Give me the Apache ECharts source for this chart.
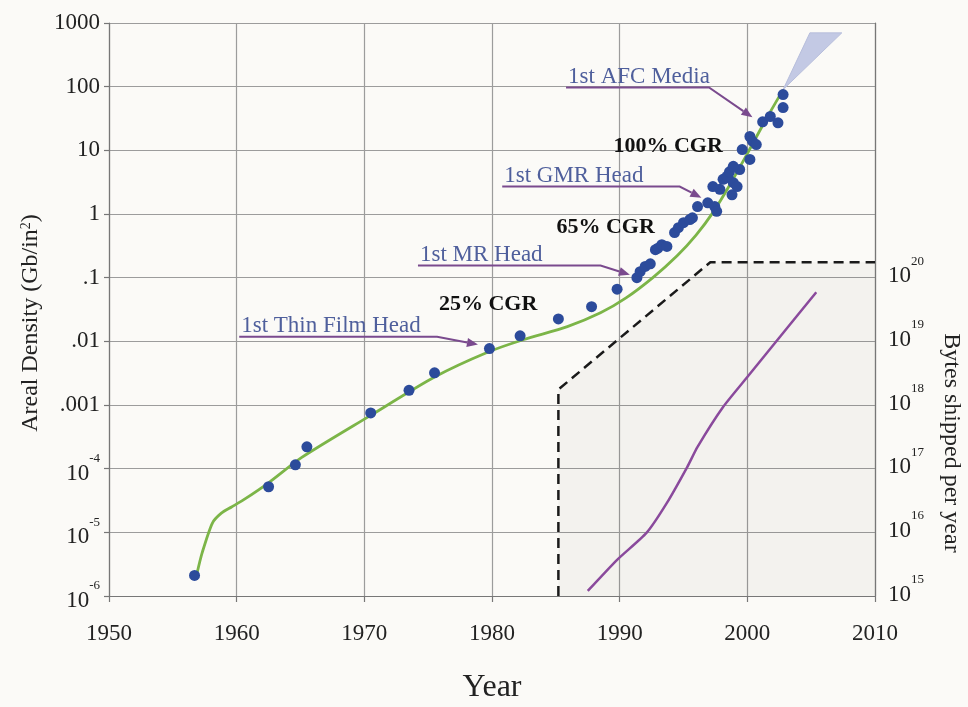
<!DOCTYPE html>
<html><head><meta charset="utf-8">
<script src="https://cdn.jsdelivr.net/npm/echarts@6/dist/echarts.min.js"></script>
<style>html,body{margin:0;padding:0;background:#fbfaf7}#c{width:968px;height:707px}</style>
</head><body><div id="c"></div>
<script>
// ---- data ----
const arealYears  = [1956.7,1962.5,1964.6,1965.5,1970.5,1973.5,1975.5,1979.8,1982.2,1985.2,1987.8,1989.8,
  1991.35,1991.6,1992.0,1992.4,1992.8,1993.0,1993.3,1993.7,1994.3,1994.6,1995.0,1995.5,1995.7,
  1996.1,1996.9,1997.45,1997.6,1997.85,1997.3,1998.1,1998.5,1998.9,1998.4,1998.6,1999.4,1998.9,1998.8,1999.2,
  1999.6,2000.2,2000.2,2000.4,2000.7,2001.2,2001.8,2002.4,2002.8,2002.8];
const arealValues = [2.1e-6,5.2e-5,1.15e-4,2.2e-4,7.5e-4,1.7e-3,3.2e-3,7.7e-3,0.0122,0.0225,0.035,0.066,
  0.1,0.124,0.15,0.165,0.275,0.29,0.33,0.31,0.51,0.61,0.73,0.82,0.87,
  1.31,1.5,1.31,1.1,2.44,2.7,3.5,3.7,3.1,3.9,4.6,5.0,5.6,2.0,2.7,
  10.3,7.2,16.5,13.9,12.3,28,34,27,75,47];
const fitYears  = [1956.9,1957.3,1958.1,1958.8,1959.6,1960.5,1962.5,1965.1,1970.3,1975.5,1979.7,1982.5,
  1985.9,1988.5,1990.5,1992.6,1994.5,1996.0,1997.3,1998.6,2000.0,2001.5,2002.8];
const fitValues = [2.3e-6,4.8e-6,1.4e-5,2.0e-5,2.5e-5,3.2e-5,6.0e-5,1.5e-4,6.5e-4,2.75e-3,6.8e-3,1.07e-2,
  1.7e-2,2.8e-2,4.8e-2,0.1,0.22,0.47,1.05,2.8,8.9,31.6,89];
const bytesYears  = [1987.5,1989.8,1992.1,1993.7,1995.3,1996.1,1998.1,2000.0,2002.8,2005.4];
const bytesValues = [1.2e15,3.7e15,9.8e15,2.9e16,1.07e17,2.2e17,9.3e17,2.75e18,1.35e19,5.9e19];
const limitYears  = [1985.2,1985.2,1997.1,2010];
const limitValues = [1e15,1.75e18,1.75e20,1.75e20];
const projYears   = [2002.8,2004.9,2007.4];
const projValues  = [90,700,700];

const leftTickExps   = [-6,-5,-4,-3,-2,-1,0,1,2,3];
const leftTickLabels = ['10^-6','10^-5','10^-4','.001','.01','.1','1','10','100','1000'];
const rightTickExps   = [15,16,17,18,19,20];
const rightTickLabels = ['10^15','10^16','10^17','10^18','10^19','10^20'];

const noteTexts      = ['1st AFC Media','1st GMR Head','1st MR Head','1st Thin Film Head'];
const noteStartYears = [1985.8,1980.8,1974.2,1960.2];
const noteLineValues = [97,2.7,0.155,0.0118];
const noteBendYears  = [1997.0,1994.7,1988.5,1975.7];
const noteTipYears   = [2000.4,1996.4,1990.8,1978.9];
const noteTipValues  = [33,1.8,0.111,0.0089];

const cgrTexts  = ['100% CGR','65% CGR','25% CGR'];
const cgrYears  = [1993.8,1988.9,1979.7];
const cgrValues = [11.5,0.61,0.0376];

// ---- chart ----
const SERIF = '"Liberation Serif","Times New Roman",serif';
function toRich(s){
  const m = s.split('^');
  return m.length > 1 ? '{b|' + m[0] + '}{s|' + m[1] + '}' : '{n|' + s + '}';
}
const richStyle = {
  n: {fontSize: 23, fontFamily: SERIF, color: '#222'},
  b: {fontSize: 23, fontFamily: SERIF, color: '#222', padding: [10,0,0,0]},
  s: {fontSize: 13, fontFamily: SERIF, color: '#222', verticalAlign: 'top', lineHeight: 14}
};
const chart = echarts.init(document.getElementById('c'), null, {renderer: 'canvas'});
const zip = (a, b) => a.map((v, i) => [v, b[i]]);

chart.setOption({
  backgroundColor: '#fbfaf7',
  animation: false,
  textStyle: {fontFamily: SERIF},
  grid: {left: 109, right: 93, top: 23, bottom: 111, containLabel: false, outerBoundsMode: 'none'},
  xAxis: {
    type: 'value', min: 1950, max: 2010, interval: 10,
    name: 'Year', nameLocation: 'middle', nameGap: 76,
    nameTextStyle: {fontFamily: SERIF, fontSize: 32, color: '#222'},
    axisLine: {show: true, onZero: false, lineStyle: {color: '#777', width: 1.2}},
    axisTick: {show: true, length: 6, inside: false, lineStyle: {color: '#777', width: 1.2}},
    axisLabel: {margin: 26, fontSize: 23, fontFamily: SERIF, color: '#222', formatter: v => String(v)},
    splitLine: {show: true, lineStyle: {color: '#9c9c9c', width: 1.2}}
  },
  yAxis: [{
    type: 'log', logBase: 10, min: 1e-6, max: 1000,
    axisLine: {show: true, lineStyle: {color: '#777', width: 1.2}},
    axisTick: {show: true, length: 5, inside: false, lineStyle: {color: '#777', width: 1.2}},
    axisLabel: {margin: 9, formatter: v => {
      const i = leftTickExps.indexOf(Math.round(Math.log10(v)));
      return i < 0 ? '' : toRich(leftTickLabels[i]);
    }, rich: richStyle},
    splitLine: {show: true, lineStyle: {color: '#9c9c9c', width: 1.2}},
    minorTick: {show: false}
  }, {
    type: 'log', logBase: 10, min: 1e15, max: 1e24, position: 'right',
    axisLine: {show: true, lineStyle: {color: '#777', width: 1.2}},
    axisTick: {show: false},
    axisLabel: {margin: 13, padding: [0,0,13,0], formatter: v => {
      const i = rightTickExps.indexOf(Math.round(Math.log10(v)));
      return i < 0 ? '' : toRich(rightTickLabels[i]);
    }, rich: richStyle},
    splitLine: {show: false}
  }],
  graphic: [
    {type: 'text', x: 31, y: 323, rotation: Math.PI / 2,
      style: {text: '{t|Areal Density (Gb/in}{s|2}{t|)}', align: 'center', verticalAlign: 'middle',
        rich: {t: {font: '24px ' + SERIF, fill: '#222'}, s: {font: '14px ' + SERIF, fill: '#222', verticalAlign: 'top'}}}},
    {type: 'text', x: 951, y: 443, rotation: -Math.PI / 2,
      style: {text: 'Bytes shipped per year', align: 'center', verticalAlign: 'middle',
        font: '24px ' + SERIF, fill: '#222'}}
  ],
  series: [
    {type: 'line', yAxisIndex: 1, data: zip(limitYears, limitValues), symbol: 'none', z: 1,
      lineStyle: {color: '#1a1a1a', width: 2.5, type: [10, 6]},
      areaStyle: {color: 'rgba(60,50,30,0.055)', origin: 'start'}},
    {type: 'line', yAxisIndex: 1, data: zip(bytesYears, bytesValues), symbol: 'none', smooth: 0.2, z: 2,
      lineStyle: {color: '#8a4a9c', width: 2.5}},
    {type: 'custom', z: 2, data: [[projYears[0], projValues[0]]],
      renderItem: (params, api) => {
        const pts = projYears.map((y, i) => api.coord([y, projValues[i]]));
        return {type: 'polygon', shape: {points: pts}, style: {fill: '#c3c9e4', stroke: '#b7bedc', lineWidth: 1}};
      }},
    {type: 'line', data: zip(fitYears, fitValues), symbol: 'none', smooth: 0.25, z: 3,
      lineStyle: {color: '#7cb548', width: 2.8}},
    {type: 'scatter', data: zip(arealYears, arealValues), symbolSize: 11, z: 4,
      itemStyle: {color: '#2c4b9b', opacity: 1}},
    {type: 'custom', z: 5, data: noteTexts.map((t, i) => [noteStartYears[i], noteLineValues[i], noteBendYears[i], noteTipYears[i], noteTipValues[i]]),
      renderItem: (params, api) => {
        const i = params.dataIndex;
        const p0 = api.coord([api.value(0), api.value(1)]);
        const p1 = api.coord([api.value(2), api.value(1)]);
        const p2 = api.coord([api.value(3), api.value(4)]);
        const dx = p2[0] - p1[0], dy = p2[1] - p1[1], len = Math.hypot(dx, dy);
        const ux = dx / len, uy = dy / len, L = 11, W = 4.5;
        const base = [p2[0] - ux * L, p2[1] - uy * L];
        const tri = [p2, [base[0] - uy * W, base[1] + ux * W], [base[0] + uy * W, base[1] - ux * W]];
        return {type: 'group', children: [
          {type: 'polyline', shape: {points: [p0, p1, base]}, style: {stroke: '#7a4a8e', lineWidth: 2, fill: null}},
          {type: 'polygon', shape: {points: tri}, style: {fill: '#7a4a8e'}},
          {type: 'text', x: p0[0] + 2, y: p0[1] + 1,
            style: {text: noteTexts[i], align: 'left', verticalAlign: 'bottom', font: '23px ' + SERIF, fill: '#4f5f9c'}}
        ]};
      }},
    {type: 'custom', z: 5, data: cgrTexts.map((t, i) => [cgrYears[i], cgrValues[i]]),
      renderItem: (params, api) => {
        const p = api.coord([api.value(0), api.value(1)]);
        return {type: 'text', x: p[0], y: p[1],
          style: {text: cgrTexts[params.dataIndex], align: 'center', verticalAlign: 'middle',
            font: 'bold 22px ' + SERIF, fill: '#111'}};
      }}
  ]
});
</script></body></html>
